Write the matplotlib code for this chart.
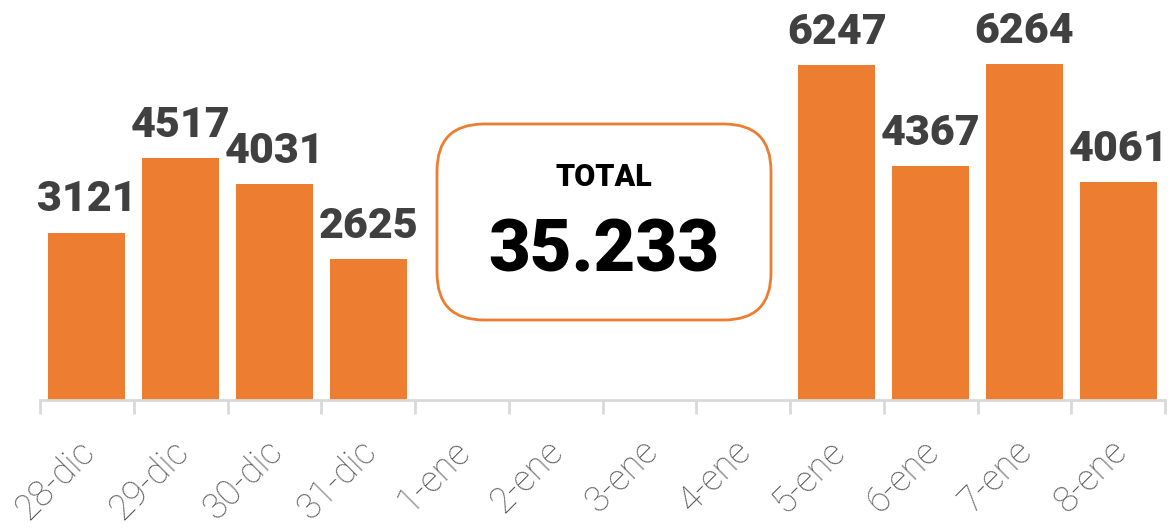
import matplotlib
matplotlib.use("Agg")
import matplotlib.pyplot as plt
import matplotlib.transforms as mtransforms
from matplotlib.patches import FancyBboxPatch

categories = ["28-dic", "29-dic", "30-dic", "31-dic", "1-ene", "2-ene", "3-ene",
              "4-ene", "5-ene", "6-ene", "7-ene", "8-ene"]
values = [3121, 4517, 4031, 2625, None, None, None, None, 6247, 4367, 6264, 4061]
total_label = "TOTAL"
total_value = "35.233"

W, H = 1176, 527
fig = plt.figure(figsize=(W / 100, H / 100), dpi=100)
ax = fig.add_axes([40 / W, (H - 400) / H, (1165 - 40) / W, 375 / H])

orange = "#ED7D31"
xs = list(range(len(categories)))
for x, v in zip(xs, values):
    if v is None:
        continue
    ax.bar(x, v, width=0.82, color=orange, zorder=2)
    ax.annotate(str(v), (x, v), xytext=(0, 9), textcoords="offset points",
                ha="center", va="bottom", fontsize=31, fontweight="black",
                family="Roboto", color="#404040", annotation_clip=False)

ax.set_xlim(-0.5, len(categories) - 0.5)
ax.set_ylim(0, 7000)
for s in ["top", "right", "left"]:
    ax.spines[s].set_visible(False)
ax.spines["bottom"].set_color("#d9d9d9")
ax.spines["bottom"].set_linewidth(2)
ax.set_yticks([])
ax.set_xticks([i - 0.5 for i in range(len(categories) + 1)])
ax.set_xticklabels([])
ax.tick_params(axis="x", length=10, width=2, color="#d9d9d9")
ax.set_xticks(xs, minor=True)
labels = ax.set_xticklabels(categories, minor=True, rotation=45, ha="right",
                            va="top", rotation_mode="anchor", fontsize=26,
                            family="Roboto", fontweight="light", color="#595959")
ax.tick_params(axis="x", which="minor", length=0, pad=24)
offset = mtransforms.ScaledTranslation(-10 / 100, 0, fig.dpi_scale_trans)
for lab in labels:
    lab.set_transform(lab.get_transform() + offset)

# total box (figure pixel coords)
bx0, by0, bx1, by1 = 437, 124, 771, 320
box = FancyBboxPatch((bx0 / W, 1 - by1 / H), (bx1 - bx0) / W, (by1 - by0) / H,
                     boxstyle="round,pad=0,rounding_size=0.04",
                     transform=fig.transFigure, facecolor="white",
                     edgecolor=orange, linewidth=2, mutation_aspect=W / H)
fig.add_artist(box)
cx = (bx0 + bx1) / 2 / W
fig.text(cx, 1 - 177 / H, total_label, ha="center", va="center", fontsize=22,
         fontweight="black", family="Roboto", color="black")
fig.text(cx, 1 - 252 / H, total_value, ha="center", va="center", fontsize=52,
         fontweight="black", family="Roboto", color="black")

fig.savefig("out.png", dpi=100)
